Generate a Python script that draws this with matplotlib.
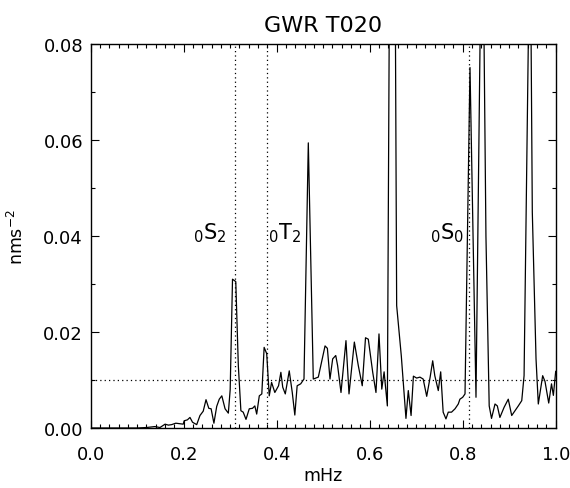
import numpy as np
import matplotlib
matplotlib.use('Agg')
import matplotlib.pyplot as plt
from matplotlib.ticker import MultipleLocator, FormatStrFormatter

plt.rcParams['font.family'] = ['DejaVu Sans']
plt.rcParams['mathtext.fontset'] = 'dejavusans'
plt.rcParams['xtick.direction'] = 'in'
plt.rcParams['ytick.direction'] = 'in'
plt.rcParams['xtick.top'] = True
plt.rcParams['ytick.right'] = True
plt.rcParams['xtick.major.pad'] = 12
plt.rcParams['xtick.minor.pad'] = 12
plt.rcParams['ytick.major.pad'] = 5.5
plt.rcParams['xtick.major.size'] = 6
plt.rcParams['ytick.major.size'] = 6
plt.rcParams['xtick.minor.size'] = 3
plt.rcParams['ytick.minor.size'] = 3
plt.rcParams['xtick.labelsize'] = 13
plt.rcParams['ytick.labelsize'] = 13

# spectrum (mHz, nms^-2); peaks above 0.08 are clipped in the plot
freq = [0.000, 0.020, 0.040, 0.060, 0.080, 0.100, 0.120, 0.138, 0.149, 0.160,
        0.167, 0.174, 0.183, 0.192, 0.199, 0.201, 0.208, 0.2135, 0.219, 0.228,
        0.235, 0.242, 0.248, 0.254, 0.259, 0.265, 0.271, 0.2765, 0.282, 0.289,
        0.296, 0.300, 0.305, 0.312, 0.3175, 0.323, 0.328, 0.334, 0.341, 0.348,
        0.353, 0.357, 0.3626, 0.368, 0.373, 0.3785, 0.384, 0.389, 0.396, 0.404,
        0.409, 0.413, 0.4185, 0.427, 0.4335, 0.439, 0.444, 0.4516, 0.4587, 0.468,
        0.4787, 0.4895, 0.504, 0.509, 0.5146, 0.5204, 0.527, 0.531, 0.5383, 0.549,
        0.5555, 0.567, 0.5755, 0.584, 0.591, 0.597, 0.6065, 0.6135, 0.620, 0.626,
        0.631, 0.638, 0.649, 0.658, 0.668, 0.678, 0.683, 0.689, 0.694, 0.701,
        0.708, 0.715, 0.7226, 0.730, 0.7355, 0.740, 0.7475, 0.7527, 0.758, 0.764,
        0.769, 0.776, 0.7835, 0.7905, 0.794, 0.800, 0.805, 0.8157, 0.8286, 0.842,
        0.850, 0.857, 0.862, 0.8695, 0.8745, 0.880, 0.889, 0.898, 0.9054, 0.9125,
        0.9196, 0.927, 0.932, 0.945, 0.9497, 0.9577, 0.9626, 0.972, 0.977, 0.985,
        0.991, 0.995, 1.000]
amp = [0.0000, 0.0000, 0.0000, 0.0000, 0.0000, 0.0000, 0.0001, 0.0003, 0.0001, 0.0008,
       0.0006, 0.0007, 0.0010, 0.0009, 0.0008, 0.0015, 0.0017, 0.0022, 0.0012, 0.0007,
       0.0026, 0.0035, 0.0059, 0.0041, 0.0040, 0.0010, 0.0045, 0.0060, 0.0067, 0.0040,
       0.0031, 0.0080, 0.0310, 0.0305, 0.0130, 0.0036, 0.0033, 0.0018, 0.0040, 0.0041,
       0.0046, 0.0029, 0.0067, 0.0071, 0.0168, 0.0155, 0.0067, 0.0095, 0.0074, 0.0088,
       0.0116, 0.0085, 0.0071, 0.0119, 0.0074, 0.0027, 0.0088, 0.0092, 0.0102, 0.0594,
       0.0102, 0.0106, 0.0171, 0.0166, 0.0102, 0.0144, 0.0151, 0.0130, 0.0074, 0.0182,
       0.0071, 0.0179, 0.0130, 0.0088, 0.0188, 0.0185, 0.0116, 0.0074, 0.0196, 0.0081,
       0.0117, 0.0046, 0.2200, 0.0255, 0.0150, 0.0020, 0.0078, 0.0026, 0.0108, 0.0104,
       0.0106, 0.0102, 0.0066, 0.0106, 0.0140, 0.0109, 0.0078, 0.0117, 0.0033, 0.0019,
       0.0033, 0.0033, 0.0040, 0.0050, 0.0060, 0.0064, 0.0071, 0.0751, 0.0064, 0.1200,
       0.0400, 0.0046, 0.0020, 0.0050, 0.0046, 0.0022, 0.0043, 0.0060, 0.0026, 0.0036,
       0.0046, 0.0057, 0.0109, 0.1100, 0.0450, 0.0144, 0.0050, 0.0109, 0.0097, 0.0052,
       0.0092, 0.0068, 0.0118]

# normal modes marked with dotted lines
mode_freq = [0.3093, 0.3792, 0.8146]
mode_names = [r'${}_0\mathrm{S}_2$', r'${}_0\mathrm{T}_2$', r'${}_0\mathrm{S}_0$']
mode_text_x = [0.220, 0.381, 0.730]
noise_level = 0.01

fig = plt.figure(figsize=(5.7, 4.89), dpi=100)
ax = fig.add_axes([0.1591, 0.1227, 0.8158, 0.7853])

ax.plot(freq, amp, color='black', lw=0.9)
ax.axhline(noise_level, color='black', lw=0.9, ls=(0, (1, 2.5)))
for f in mode_freq:
    ax.axvline(f, color='black', lw=0.9, ls=(0, (1, 2.5)))
for name, xt in zip(mode_names, mode_text_x):
    ax.text(xt, 0.0394, name, fontsize=15, ha='left', va='baseline')

ax.set_xlim(0, 1)
ax.set_ylim(0, 0.08)
ax.xaxis.set_major_locator(MultipleLocator(0.2))
ax.xaxis.set_minor_locator(MultipleLocator(0.02))
ax.yaxis.set_major_locator(MultipleLocator(0.02))
ax.yaxis.set_minor_locator(MultipleLocator(0.01))
ax.xaxis.set_major_formatter(FormatStrFormatter('%.1f'))
ax.yaxis.set_major_formatter(FormatStrFormatter('%.2f'))
ax.tick_params(which='both', width=0.8)
for s in ax.spines.values():
    s.set_linewidth(1.0)

ax.set_title('GWR T020', fontsize=16, pad=9)
ax.set_xlabel('mHz', fontsize=12.5)
ax.set_ylabel('nms$^{-2}$', fontsize=12.5)
ax.xaxis.set_label_coords(0.5, -0.10)
ax.yaxis.set_label_coords(-0.137, 0.5)

fig.savefig('out.png', dpi=100)
